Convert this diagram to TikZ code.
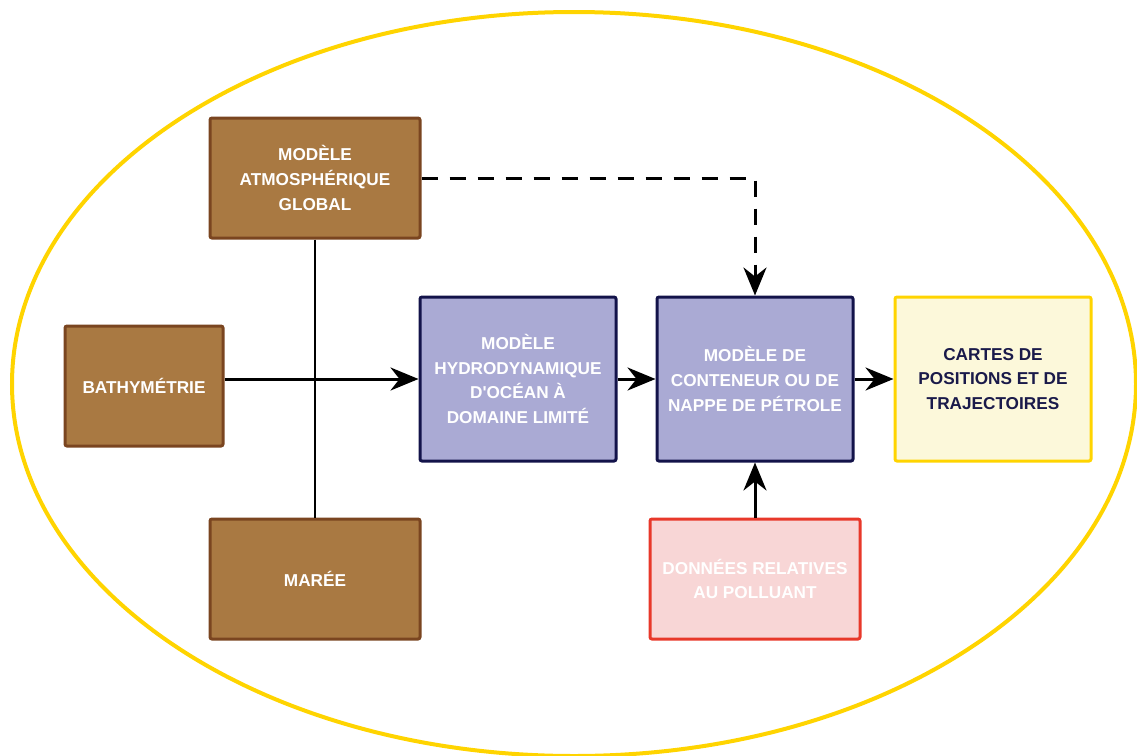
\documentclass[tikz,border=0pt]{standalone}
\usepackage{fontspec}
\setmainfont{Liberation Sans}
\usetikzlibrary{positioning,arrows.meta,calc}
\definecolor{brunfond}{HTML}{A97942}
\definecolor{bruntrait}{HTML}{7A4520}
\definecolor{violetfond}{HTML}{AAAAD4}
\definecolor{violettrait}{HTML}{13134A}
\definecolor{jaunefond}{HTML}{FCF8DA}
\definecolor{jaunetrait}{HTML}{FFD400}
\definecolor{rosefond}{HTML}{F8D6D6}
\definecolor{rosetrait}{HTML}{E8382A}
\definecolor{encre}{HTML}{1A1A4A}

\begin{document}
\begin{tikzpicture}[
  x=0.5pt, y=-0.5pt,
  >={Stealth[length=14pt,width=11.5pt,inset=4.5pt]},
  every node/.style={font=\bfseries\fontsize{8.6}{12.3}\selectfont,align=center},
  boite/.style={draw,line width=1.5pt,rounded corners=1pt,inner sep=0pt},
  brun/.style={boite,fill=brunfond,draw=bruntrait,text=white},
  modele/.style={boite,fill=violetfond,draw=violettrait,text=white,
    minimum width=98pt,minimum height=82pt},
  fleche/.style={->,line width=1.5pt}
]
\useasboundingbox (0,0) rectangle (1137,756);

% ellipse du cadre
\draw[jaunetrait,line width=2pt] (574,384) ellipse [x radius=562,y radius=372];

% donnees d'entree
\node[brun,minimum width=105pt,minimum height=60pt] (atmos) at (315,178)
  {MODÈLE\\ATMOSPHÉRIQUE\\GLOBAL};
\node[brun,minimum width=79pt,minimum height=60pt] (bathy) at (144,386)
  {BATHYMÉTRIE};
\node[brun,minimum width=105pt,minimum height=60pt] (maree) at (315,579)
  {MARÉE};

% modeles
\node[modele] (hydro) at (518,379)
  {MODÈLE\\HYDRODYNAMIQUE\\D\textquotesingle OCÉAN À\\DOMAINE LIMITÉ};
\node[modele] (cont) at (755,379)
  {MODÈLE DE\\CONTENEUR OU DE\\NAPPE DE PÉTROLE};

% sortie
\node[boite,fill=jaunefond,draw=jaunetrait,text=encre,
  minimum width=98pt,minimum height=82pt] (cartes) at (993,379)
  {CARTES DE\\POSITIONS ET DE\\TRAJECTOIRES};
\node[boite,fill=rosefond,draw=rosetrait,text=white,
  minimum width=105pt,minimum height=60pt] (donnees) at (755,579)
  {DONNÉES RELATIVES\\AU POLLUANT};

% liaisons
\draw[line width=1pt] (atmos.south) -- (maree.north);
\draw[fleche] (bathy.east |- hydro.west) -- (hydro.west);
\draw[fleche] (hydro) -- (cont);
\draw[fleche] (cont) -- (cartes);
\draw[fleche] (donnees) -- (cont);
\draw[fleche,dash pattern=on 8pt off 6pt]
  (atmos.east) -- (atmos.east -| cont.north) -- (cont.north);
\end{tikzpicture}
\end{document}
